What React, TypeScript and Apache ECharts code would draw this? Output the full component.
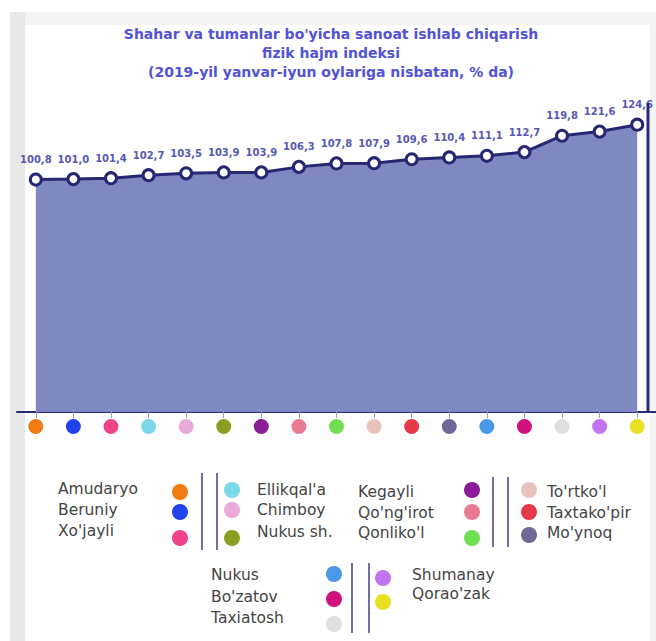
import React, { useEffect, useRef } from "react";
import * as echarts from "echarts";

const categories = [
  "Amudaryo", "Beruniy", "Xo'jayli", "Ellikqal'a", "Chimboy", "Nukus sh.",
  "Kegayli", "Qo'ng'irot", "Qonliko'l", "To'rtko'l", "Taxtako'pir", "Mo'ynoq",
  "Nukus", "Bo'zatov", "Taxiatosh", "Shumanay", "Qorao'zak",
];
const values = [
  100.8, 101.0, 101.4, 102.7, 103.5, 103.9, 103.9, 106.3, 107.8, 107.9,
  109.6, 110.4, 111.1, 112.7, 119.8, 121.6, 124.6,
];
const dotColors = [
  "#f27a12", "#2342ea", "#f0438c", "#7bd7e8", "#e9a9d9", "#88a01f",
  "#8a1c98", "#e97a92", "#72df52", "#e9c3bb", "#e63a4a", "#6f6899",
  "#4a98e8", "#d0127f", "#dfdfdf", "#c273f0", "#e8e020",
];
const titleLines = [
  "Shahar va tumanlar bo'yicha sanoat ishlab chiqarish",
  "fizik hajm indeksi",
  "(2019-yil yanvar-iyun oylariga nisbatan, % da)",
];

// legend layout blocks: indices into categories
const legendBlocks = [
  { idx: [0, 1, 2], textX: 58, dotX: 180, textY: [489, 510, 531], dotY: [492, 512, 538] },
  { idx: [3, 4, 5], textX: 257, dotX: 232, textY: [490, 510, 532], dotY: [490, 510, 538] },
  { idx: [6, 7, 8], textX: 358, dotX: 472, textY: [492, 513, 533], dotY: [490, 512, 538] },
  { idx: [9, 10, 11], textX: 547, dotX: 529, textY: [492, 513, 533], dotY: [490, 512, 535] },
  { idx: [12, 13, 14], textX: 211, dotX: 334, textY: [575, 597, 618], dotY: [574, 599, 624] },
  { idx: [15, 16], textX: 412, dotX: 383, textY: [575, 594], dotY: [578, 602] },
];
const dividers = [
  { x: [202, 217], y1: 473, y2: 550 },
  { x: [493, 508], y1: 477, y2: 547 },
  { x: [352, 369], y1: 563, y2: 633 },
];

export default function App() {
  const ref = useRef<HTMLDivElement>(null);
  useEffect(() => {
    if (!ref.current) return;
    const chart = echarts.init(ref.current, null, { renderer: "svg" });
    const rich: any = {};
    dotColors.forEach((c, i) => {
      rich["c" + i] = { width: 15, height: 15, borderRadius: 7.5, backgroundColor: c };
    });

    const graphics: any[] = [
      { type: "rect", shape: { x: 10, y: 12, width: 646, height: 629 }, style: { fill: "#f4f4f4" }, z: -10, silent: true },
      { type: "rect", shape: { x: 10, y: 12, width: 15, height: 629 }, style: { fill: "#e8e8e8" }, z: -9, silent: true },
      { type: "rect", shape: { x: 25, y: 25, width: 625, height: 616 }, style: { fill: "#ffffff" }, z: -8, silent: true },
      { type: "line", shape: { x1: 648, y1: 103, x2: 648, y2: 413 }, style: { stroke: "#2a2a78", lineWidth: 3 }, z: 10 },
    ];
    legendBlocks.forEach((b) => {
      b.idx.forEach((ci, k) => {
        graphics.push({
          type: "text",
          x: b.textX,
          y: b.textY[k],
          style: {
            text: categories[ci],
            fill: "#444444",
            font: "15.5px 'DejaVu Sans'",
            textAlign: "left",
            textVerticalAlign: "middle",
          },
        });
        graphics.push({
          type: "circle",
          shape: { cx: b.dotX, cy: b.dotY[k], r: 8 },
          style: { fill: dotColors[ci] },
        });
      });
    });
    dividers.forEach((d) => {
      d.x.forEach((x) => {
        graphics.push({
          type: "line",
          shape: { x1: x, y1: d.y1, x2: x, y2: d.y2 },
          style: { stroke: "#6f6fa6", lineWidth: 2 },
        });
      });
    });

    chart.setOption({
      animation: false,
      title: {
        text: titleLines.join("\n"),
        left: 326,
        top: 19,
        textAlign: "center",
        textStyle: {
          color: "#5252d8",
          fontFamily: "DejaVu Sans",
          fontWeight: "bold",
          fontSize: 14,
          lineHeight: 19,
        },
      },
      grid: { left: 17, top: 103, width: 643, height: 309 },
      xAxis: {
        type: "category",
        data: categories,
        boundaryGap: true,
        axisLine: { show: true, lineStyle: { color: "#2a2a78", width: 2 } },
        axisTick: { show: true, alignWithLabel: true, length: 6, lineStyle: { color: "#9a9ac0", width: 1 } },
        axisLabel: {
          interval: 0,
          margin: 7,
          formatter: (_v: string, i: number) => `{c${i}| }`,
          rich,
        },
      },
      yAxis: {
        type: "value",
        min: 0,
        max: 134,
        show: false,
        splitLine: { show: false },
      },
      series: [
        {
          type: "line",
          data: values,
          symbol: "circle",
          symbolSize: 11,
          lineStyle: { color: "#262673", width: 3 },
          itemStyle: { color: "#ffffff", borderColor: "#262673", borderWidth: 3 },
          areaStyle: { color: "#8088c2", opacity: 1 },
          label: {
            show: true,
            position: "top",
            distance: 8,
            color: "#5858b8",
            fontFamily: "DejaVu Sans",
            fontWeight: "bold",
            fontSize: 10,
            formatter: (p: any) => p.value.toFixed(1).replace(".", ","),
          },
        },
      ],
      graphic: graphics,
    });
    return () => chart.dispose();
  }, []);
  return <div ref={ref} style={{ position: "absolute", left: 0, top: 0, width: 656, height: 641 }} />;
}
